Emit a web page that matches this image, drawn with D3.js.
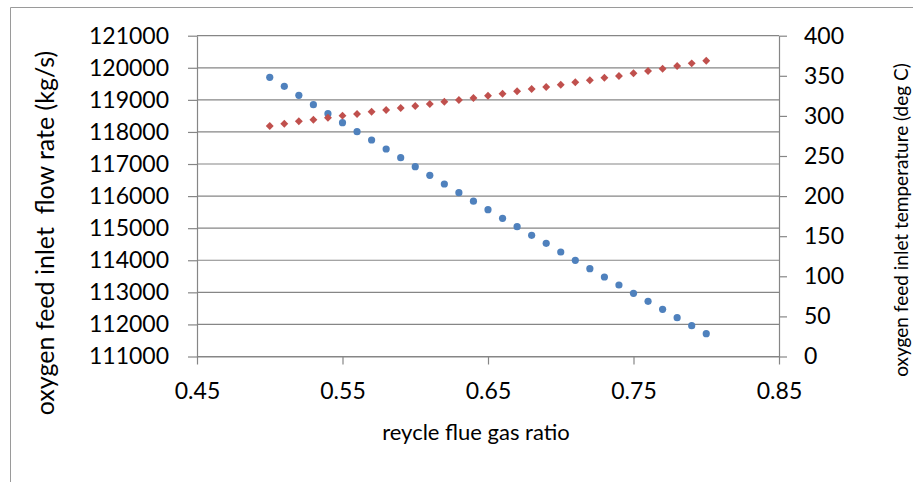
<!DOCTYPE html>
<html>
<head>
<meta charset="utf-8">
<script src="https://cdn.jsdelivr.net/npm/d3@7/dist/d3.min.js"></script>
<style>
  body { margin: 0; background: #fff; }
  svg text { font-family: Lato, "Open Sans", sans-serif; fill: #000; }
</style>
</head>
<body>
<svg id="chart" width="913" height="482"></svg>
<script>
// Recycle flue gas ratio (x) and the two responses plotted against it
const ratio = [0.50, 0.51, 0.52, 0.53, 0.54, 0.55, 0.56, 0.57, 0.58, 0.59, 0.60,
               0.61, 0.62, 0.63, 0.64, 0.65, 0.66, 0.67, 0.68, 0.69, 0.70,
               0.71, 0.72, 0.73, 0.74, 0.75, 0.76, 0.77, 0.78, 0.79, 0.80];
const flowRate = [119703, 119423, 119142, 118849, 118569, 118288, 118007, 117749,
                  117468, 117197, 116916, 116648, 116377, 116106, 115841, 115576,
                  115308, 115046, 114778, 114529, 114257, 113999, 113737, 113478,
                  113229, 112970, 112721, 112471, 112209, 111960, 111711];
const inletTemp = [287.4, 290.3, 293.3, 295.3, 297.8, 300.3, 302.4, 305.2, 307.4,
                   309.9, 312.4, 314.8, 317.7, 319.8, 322.3, 325.2, 327.7, 330.7,
                   333.5, 336.0, 338.9, 341.9, 344.4, 347.6, 349.8, 353.1, 356.0,
                   358.8, 362.2, 365.5, 368.8];

const ratioTicks = [0.45, 0.55, 0.65, 0.75, 0.85];
const flowTicks = [111000, 112000, 113000, 114000, 115000, 116000, 117000, 118000, 119000, 120000, 121000];
const tempTicks = [0, 50, 100, 150, 200, 250, 300, 350, 400];

const xTitle = "reycle flue gas ratio";
const yLeftTitle = "oxygen feed inlet  flow rate (kg/s)";
const yRightTitle = "oxygen feed inlet temperature (deg C)";

const axisGrey = "#868686";
const blue = "#4F81BD";
const red = "#C0504D";

const svg = d3.select("#chart");

// Plot area
const plotLeft = 197, plotRight = 779, plotTop = 35.7, plotBottom = 356.5;

const x = d3.scaleLinear().domain([0.45, 0.85]).range([plotLeft, plotRight]);
const yL = d3.scaleLinear().domain([111000, 121000]).range([plotBottom, plotTop]);
const yR = d3.scaleLinear().domain([0, 400]).range([plotBottom, plotTop]);

// Chart frame (only left and top edges fall inside the view)
svg.append("path")
  .attr("d", `M10.5,482 V7.5 H913`)
  .attr("fill", "none")
  .attr("stroke", "#9a9a9a")
  .attr("stroke-width", 1);

// Horizontal gridlines
svg.append("g").selectAll("line").data(flowTicks).join("line")
  .attr("x1", plotLeft).attr("x2", plotRight)
  .attr("y1", d => yL(d)).attr("y2", d => yL(d))
  .attr("stroke", axisGrey).attr("stroke-width", 1.2);

function styleAxis(g) {
  g.attr("font-family", null).attr("font-size", null);
  g.selectAll("path, line").attr("stroke", axisGrey).attr("stroke-width", 1.2);
  g.selectAll("text").style("font-size", "23px").attr("fill", "#000");
}

// Left axis
svg.append("g")
  .attr("transform", `translate(${plotLeft},0)`)
  .call(d3.axisLeft(yL).tickValues(flowTicks).tickFormat(d3.format("d"))
        .tickSizeInner(9).tickSizeOuter(0).tickPadding(19))
  .call(styleAxis);

// Right axis
svg.append("g")
  .attr("transform", `translate(${plotRight},0)`)
  .call(d3.axisRight(yR).tickValues(tempTicks).tickFormat(d3.format("d"))
        .tickSizeInner(8).tickSizeOuter(0).tickPadding(17))
  .call(styleAxis);

// Bottom axis
const xAxis = svg.append("g")
  .attr("transform", `translate(0,${plotBottom})`)
  .call(d3.axisBottom(x).tickValues(ratioTicks).tickFormat(d3.format(".2f"))
        .tickSizeInner(8).tickSizeOuter(0))
  .call(styleAxis);
xAxis.selectAll("text").attr("y", 42).attr("dy", 0);

// Flow rate series: blue circles
svg.append("g").selectAll("circle").data(ratio).join("circle")
  .attr("cx", (d) => x(d))
  .attr("cy", (d, i) => yL(flowRate[i]))
  .attr("r", 3.6)
  .attr("fill", blue);

// Temperature series: red diamonds
const diamond = d3.symbol().type(d3.symbolDiamond2).size(40);
svg.append("g").selectAll("path").data(ratio).join("path")
  .attr("transform", (d, i) => `translate(${x(d)},${yR(inletTemp[i])})`)
  .attr("d", diamond)
  .attr("fill", red);

// Axis titles
svg.append("text")
  .attr("x", 476).attr("y", 440)
  .attr("text-anchor", "middle")
  .style("font-size", "22px")
  .text(xTitle);

svg.append("text")
  .attr("transform", "translate(54,233) rotate(-90)")
  .attr("text-anchor", "middle")
  .style("font-size", "25px")
  .style("white-space", "pre")
  .text(yLeftTitle);

svg.append("text")
  .attr("transform", "translate(908,220) rotate(-90)")
  .attr("text-anchor", "middle")
  .style("font-size", "19px")
  .text(yRightTitle);
</script>
</body>
</html>
